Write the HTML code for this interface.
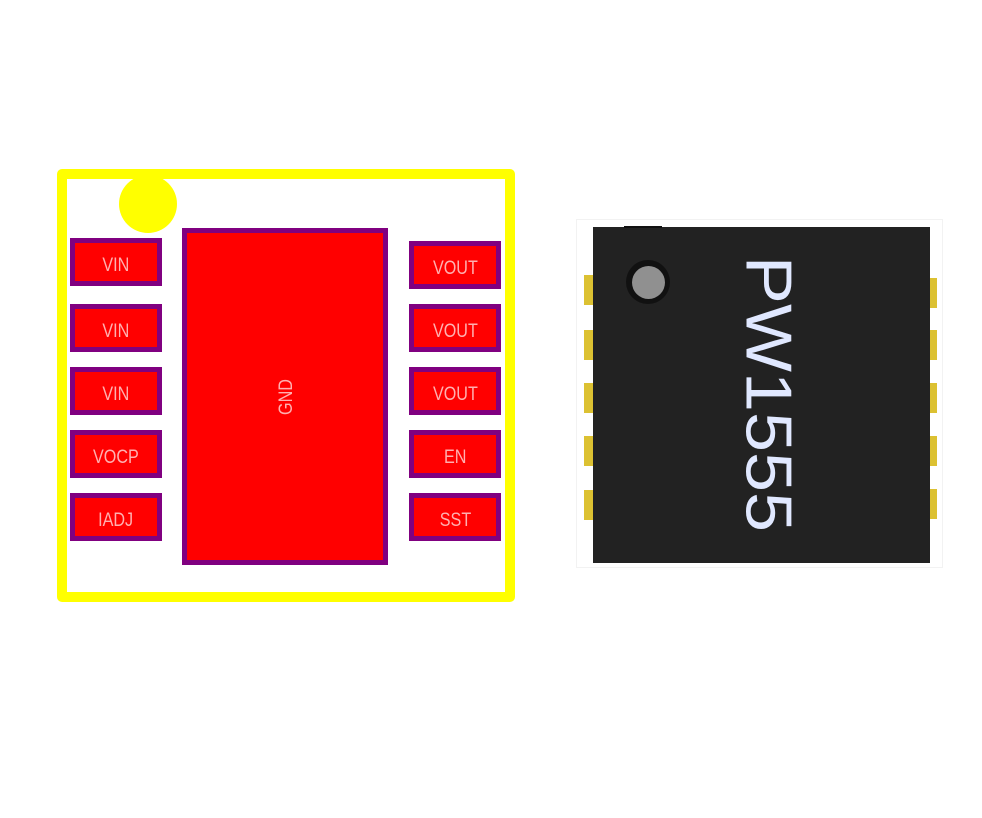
<!DOCTYPE html>
<html><head><style>
body{margin:0;width:982px;height:818px;background:#fff;overflow:hidden;position:relative;font-family:"Liberation Sans",sans-serif}
.p{position:absolute;box-sizing:border-box;background:#f00;border:5px solid #800080;color:#ffb0b0;font-size:19px;display:flex;align-items:center;justify-content:center;width:92px;height:48px;padding-top:7px}
.p span{display:inline-block;transform:scaleX(0.85)}
.pin{position:absolute;background:#dcc132;width:9px;height:30px}
</style></head><body>
<div style="position:absolute;left:57px;top:169px;width:458px;height:433px;box-sizing:border-box;border:10px solid #ff0;border-radius:5px"></div>
<div style="position:absolute;left:119px;top:175px;width:58px;height:58px;border-radius:50%;background:#ff0"></div>
<div class="p" style="left:70px;top:238px"><span>VIN</span></div>
<div class="p" style="left:70px;top:304px"><span>VIN</span></div>
<div class="p" style="left:70px;top:367px"><span>VIN</span></div>
<div class="p" style="left:70px;top:430px"><span>VOCP</span></div>
<div class="p" style="left:70px;top:493px"><span>IADJ</span></div>
<div class="p" style="left:409px;top:241px"><span>VOUT</span></div>
<div class="p" style="left:409px;top:304px"><span>VOUT</span></div>
<div class="p" style="left:409px;top:367px"><span>VOUT</span></div>
<div class="p" style="left:409px;top:430px"><span>EN</span></div>
<div class="p" style="left:409px;top:493px"><span>SST</span></div>
<div class="p" style="left:182px;top:228px;width:206px;height:337px;padding:0 0 0 4px"><span style="transform:rotate(-90deg) scaleX(0.85)">GND</span></div>
<div style="position:absolute;left:576px;top:219px;width:367px;height:349px;border:1px solid #f2f2f2;box-sizing:border-box"></div>
<div class="pin" style="left:584px;top:275px"></div>
<div class="pin" style="left:584px;top:330px"></div>
<div class="pin" style="left:584px;top:383px"></div>
<div class="pin" style="left:584px;top:436px"></div>
<div class="pin" style="left:584px;top:490px"></div>
<div class="pin" style="left:928px;top:278px"></div>
<div class="pin" style="left:928px;top:330px"></div>
<div class="pin" style="left:928px;top:383px"></div>
<div class="pin" style="left:928px;top:436px"></div>
<div class="pin" style="left:928px;top:489px"></div>
<div style="position:absolute;left:593px;top:227px;width:337px;height:336px;background:#222"></div>
<div style="position:absolute;left:624px;top:226px;width:38px;height:2px;background:#111"></div>
<div style="position:absolute;left:626px;top:260px;width:44px;height:44px;border-radius:50%;background:#111"></div>
<div style="position:absolute;left:632px;top:266px;width:33px;height:33px;border-radius:50%;background:#909090"></div>
<div style="position:absolute;left:768px;top:394px;width:0;height:0">
<div style="position:absolute;transform:translate(-50%,-50%) rotate(90deg) scaleY(0.9);font-size:72px;color:#e0e8ff;white-space:nowrap;line-height:1">PW1555</div></div>
</body></html>
